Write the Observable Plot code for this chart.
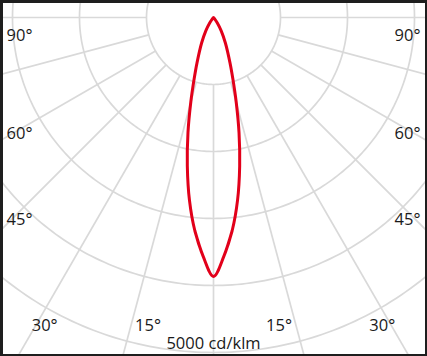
<!DOCTYPE html>
<html>
<head>
<meta charset="utf-8">
<script src="https://cdn.jsdelivr.net/npm/d3@7"></script>
<script src="https://cdn.jsdelivr.net/npm/@observablehq/plot@0.6"></script>
<style>
  html, body { margin: 0; padding: 0; background: #fff; }
  #chart { width: 427px; height: 356px; }
</style>
</head>
<body>
<div id="chart"></div>
<script>
// ---- data ----
const ringValues = [1000, 2000, 3000, 4000, 5000];              // cd/klm
const rayAngles = [-90, -75, -60, -45, -30, -15, 0, 15, 30, 45, 60, 75, 90];
const beamAngles = [0, 2.5, 5, 7.5, 10, 12.5, 15, 17.5, 20, 25, 30, 35, 40, 45];
const beamIntensity = [3866, 3565, 3195, 2750, 2250, 1760, 1310, 960, 720, 420, 230, 100, 30, 0];
const tickAngles = [90, 60, 45, 30, 15];
const tickText = ["90°", "60°", "45°", "30°", "15°"];
const scaleValue = 5000;
const scaleLabel = "5000 cd/klm";

// ---- layout ----
const W = 427, H = 356;
const k = 0.067;            // px per cd/klm
const cx = 213, cy = 17;    // pole position in px
const rad = d => d * Math.PI / 180;
const polar = (a, r) => ({x: r * Math.sin(rad(a)), y: r * Math.cos(rad(a))});

// rings
const ringPts = [];
for (const v of ringValues) for (let a = 0; a <= 360; a += 1) ringPts.push({ring: v, ...polar(a, v)});

// rays from inner ring outwards
const rays = rayAngles.map(a => {
  const p1 = polar(a, ringValues[0]), p2 = polar(a, 9000);
  return {x1: p1.x, y1: p1.y, x2: p2.x, y2: p2.y};
});

// beam: (overlap) bottom -> right side -> tip -> left side -> bottom (overlap)
const n = beamAngles.length;
const beam = [];
beam.push(polar(-beamAngles[2], beamIntensity[2]));
beam.push(polar(-beamAngles[1], beamIntensity[1]));
beamAngles.forEach((a, i) => beam.push(polar(a, beamIntensity[i])));
for (let i = n - 2; i >= 0; i--) beam.push(polar(-beamAngles[i], beamIntensity[i]));
beam.push(polar(beamAngles[1], beamIntensity[1]));
beam.push(polar(beamAngles[2], beamIntensity[2]));

// tick labels placed along their ray near the plot edge
const ticks = tickAngles.flatMap((a, i) => {
  const t = Math.tan(rad(a));
  let px, py;
  if (308 * t > 194) { px = 194; py = Math.max(202 / t, 18); }
  else { px = 334 * t - 24; py = 308; }
  return [{x: -px / k, y: py / k, text: tickText[i]}, {x: px / k, y: py / k, text: tickText[i]}];
});

const plot = Plot.plot({
  width: W, height: H,
  margin: 0,
  x: {domain: [-cx / k, (W - cx) / k], range: [0, W], axis: null},
  y: {domain: [-cy / k, (H - cy) / k], range: [0, H], axis: null},
  style: {background: "#fff"},
  marks: [
    Plot.line(ringPts, {x: "x", y: "y", z: "ring", stroke: "#d9d9d9", strokeWidth: 1.7, clip: true}),
    Plot.link(rays, {x1: "x1", y1: "y1", x2: "x2", y2: "y2", stroke: "#d9d9d9", strokeWidth: 1.7, clip: true}),
    Plot.line(beam, {x: "x", y: "y", curve: "catmull-rom", stroke: "#e2001a", strokeWidth: 3, strokeLinejoin: "miter", strokeLinecap: "butt", clip: true}),
    Plot.text(ticks, {x: "x", y: "y", text: "text", fontFamily: "Open Sans", fontSize: 16.5, fill: "#1a1a1a"}),
    Plot.text([scaleLabel], {x: 0, y: scaleValue, dy: -9, text: d => d, fontFamily: "Open Sans", fontSize: 16.5, fill: "#1a1a1a"}),
    Plot.frame({stroke: "#1e1e1e", strokeWidth: 5})
  ]
});
document.getElementById("chart").appendChild(plot);
</script>
</body>
</html>
